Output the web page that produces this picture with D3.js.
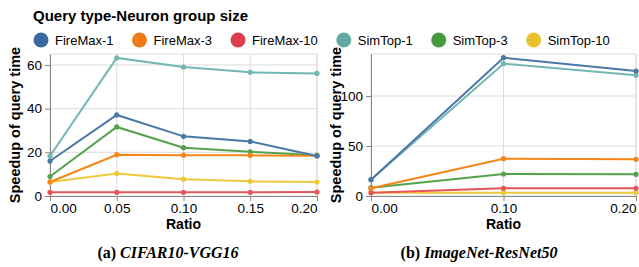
<!DOCTYPE html>
<html>
<head>
<meta charset="utf-8">
<script src="https://cdn.jsdelivr.net/npm/d3@7"></script>
<style>
  body { margin: 0; background: #fff; }
  svg { font-family: "Liberation Sans", Arial, sans-serif; }
</style>
</head>
<body>
<svg id="chart" width="639" height="267"></svg>
<script>
// series names and colours
const seriesNames = ['FireMax-1', 'FireMax-3', 'FireMax-10', 'SimTop-1', 'SimTop-3', 'SimTop-10'];
const seriesColors = ['#4c78a8', '#f58518', '#e45756', '#72b7b2', '#54a24b', '#eeca3b'];
const legendColors = ['#3b6aa0', '#f07a1a', '#dc3f4b', '#62a8a3', '#479a3c', '#ebc22e'];

// CIFAR10-VGG16
const cifarRatios = [0, 0.05, 0.10, 0.15, 0.20];
const cifarFireMax1 = [16.0, 37.1, 27.3, 25.0, 18.3];
const cifarFireMax3 = [6.4, 18.9, 18.7, 18.6, 18.4];
const cifarFireMax10 = [1.7, 1.7, 1.7, 1.7, 1.8];
const cifarSimTop1 = [18.3, 63.2, 59.0, 56.6, 56.1];
const cifarSimTop3 = [8.9, 31.6, 22.1, 20.2, 18.7];
const cifarSimTop10 = [6.4, 10.3, 7.7, 6.7, 6.4];
const cifarXTicks = [0, 0.05, 0.10, 0.15, 0.20];
const cifarYTicks = [0, 20, 40, 60];

// ImageNet-ResNet50
const imagenetRatios = [0, 0.10, 0.20];
const imagenetFireMax1 = [16.3, 138.3, 125.0];
const imagenetFireMax3 = [7.7, 37.3, 36.7];
const imagenetFireMax10 = [3.3, 7.7, 7.7];
const imagenetSimTop1 = [16.3, 132.3, 120.7];
const imagenetSimTop3 = [8.3, 22.0, 21.7];
const imagenetSimTop10 = [3.3, 3.3, 3.3];
const imagenetXTicks = [0, 0.10, 0.20];
const imagenetYTicks = [0, 50, 100];

const svg = d3.select('#chart');

// legend
const legend = svg.append('g');
legend.append('text')
  .attr('x', 33).attr('y', 21)
  .attr('font-size', 15).attr('font-weight', 'bold')
  .text('Query type-Neuron group size');

let lx = 41;
seriesNames.forEach((name, i) => {
  const g = legend.append('g').attr('transform', `translate(${lx},40)`);
  g.append('circle').attr('r', 7.5).attr('fill', legendColors[i]);
  const t = g.append('text')
    .attr('x', 14).attr('y', 4.5)
    .attr('font-size', 13)
    .text(name);
  lx += 14 + t.node().getComputedTextLength() + 26;
});

function panel(opts) {
  const { left, right, top, bottom, ratios, series, xTicks, yTicks, yMax, caption, label } = opts;
  const x = d3.scaleLinear().domain([0, 0.2]).range([left, right]);
  const y = d3.scaleLinear().domain([0, yMax]).range([bottom, top]);
  const g = svg.append('g');

  // grid
  g.append('g').selectAll('line').data(xTicks).join('line')
    .attr('x1', d => x(d)).attr('x2', d => x(d))
    .attr('y1', top).attr('y2', bottom)
    .attr('stroke', '#ddd');
  g.append('g').selectAll('line').data(yTicks).join('line')
    .attr('x1', left).attr('x2', right)
    .attr('y1', d => y(d)).attr('y2', d => y(d))
    .attr('stroke', '#ddd');
  g.append('line').attr('x1', right).attr('x2', right).attr('y1', top).attr('y2', bottom).attr('stroke', '#ddd');
  g.append('line').attr('x1', left).attr('x2', right).attr('y1', top).attr('y2', top).attr('stroke', '#ddd');

  // axes
  const xAxis = g.append('g').attr('transform', `translate(0,${bottom})`)
    .call(d3.axisBottom(x).tickValues(xTicks).tickFormat(d3.format('.2f')).tickSize(5).tickSizeOuter(0));
  xAxis.selectAll('text').attr('dy', '0.65em')
    .attr('text-anchor', (d, i) => i === 0 ? 'start' : (i === xTicks.length - 1 ? 'end' : 'middle'));
  const yAxis = g.append('g').attr('transform', `translate(${left},0)`)
    .call(d3.axisLeft(y).tickValues(yTicks).tickSize(5).tickSizeOuter(0));
  [xAxis, yAxis].forEach(a => {
    a.attr('font-family', null).attr('font-size', 13.5);
    a.selectAll('text').attr('fill', '#000');
    a.select('.domain').attr('stroke', '#888');
    a.selectAll('.tick line').attr('stroke', '#888');
  });

  g.append('text')
    .attr('x', (left + right) / 2).attr('y', bottom + 33)
    .attr('text-anchor', 'middle').attr('font-size', 14).attr('font-weight', 'bold')
    .text('Ratio');
  g.append('text')
    .attr('transform', `translate(${left - 30},${(top + bottom) / 2}) rotate(-90)`)
    .attr('text-anchor', 'middle').attr('font-size', 14.5).attr('font-weight', 'bold')
    .text('Speedup of query time');

  // lines, drawn in reverse so FireMax-1 sits on top
  const line = d3.line().x((d, i) => x(ratios[i])).y(d => y(d));
  const order = [5, 4, 3, 2, 1, 0];
  order.forEach(i => {
    const vals = series[i];
    g.append('path').attr('d', line(vals))
      .attr('fill', 'none').attr('stroke', seriesColors[i]).attr('stroke-width', 2);
    g.append('g').selectAll('circle').data(vals).join('circle')
      .attr('cx', (d, j) => x(ratios[j])).attr('cy', d => y(d))
      .attr('r', 2.6).attr('fill', seriesColors[i]);
  });

  const cap = svg.append('text')
    .attr('x', opts.capX).attr('y', 258)
    .attr('text-anchor', 'middle')
    .style('font-family', '"Liberation Serif", "DejaVu Serif", serif')
    .attr('font-size', 16).attr('font-weight', 'bold');
  cap.append('tspan').text(label + ' ');
  cap.append('tspan').attr('font-style', 'italic').text(caption);
}

panel({
  left: 50, right: 317, top: 54, bottom: 196,
  ratios: cifarRatios,
  series: [cifarFireMax1, cifarFireMax3, cifarFireMax10, cifarSimTop1, cifarSimTop3, cifarSimTop10],
  xTicks: cifarXTicks, yTicks: cifarYTicks, yMax: 65,
  label: '(a)', caption: 'CIFAR10-VGG16', capX: 168
});
panel({
  left: 371, right: 636, top: 54, bottom: 196,
  ratios: imagenetRatios,
  series: [imagenetFireMax1, imagenetFireMax3, imagenetFireMax10, imagenetSimTop1, imagenetSimTop3, imagenetSimTop10],
  xTicks: imagenetXTicks, yTicks: imagenetYTicks, yMax: 142,
  label: '(b)', caption: 'ImageNet-ResNet50', capX: 479
});
</script>
</body>
</html>
